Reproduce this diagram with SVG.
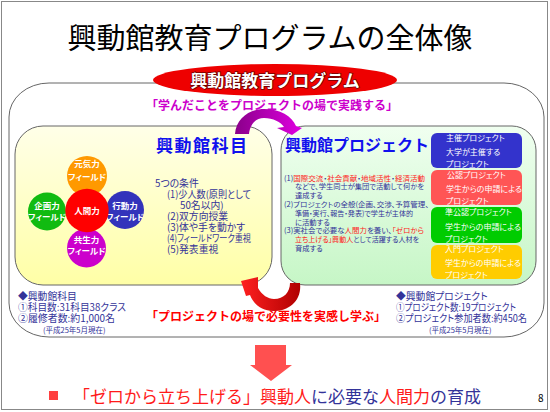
<svg xmlns="http://www.w3.org/2000/svg" width="550" height="412" viewBox="0 0 550 412">
<defs>
<style>
text{font-family:"Noto Sans CJK JP","Noto Sans CJK SC",sans-serif}
.p{font-feature-settings:"palt" 1}
.b{font-weight:700}
.navy{fill:#333399}
.red{fill:#ff1a1a}
.wt{fill:#ffffff;font-weight:700;font-size:8.5px;text-anchor:middle}
.pb{fill:#ffffff;font-size:8px}
.box{stroke:#666666;stroke-width:1}
</style>
<linearGradient id="gy" x1="0" y1="0" x2="0" y2="1"><stop offset="0" stop-color="#ffffe8"/><stop offset="1" stop-color="#ffffa6"/></linearGradient>
<linearGradient id="gg" x1="0" y1="0" x2="0" y2="1"><stop offset="0" stop-color="#f0fff0"/><stop offset="1" stop-color="#c6f6c6"/></linearGradient>
<linearGradient id="gm" x1="0" y1="0" x2="1" y2="0"><stop offset="0" stop-color="#8a008a"/><stop offset="1" stop-color="#e000e0"/></linearGradient>
<linearGradient id="gr" x1="1" y1="0" x2="0" y2="0"><stop offset="0" stop-color="#b00000"/><stop offset="1" stop-color="#ff2020"/></linearGradient>
</defs>
<rect x="0" y="0" width="550" height="412" fill="#ffffff"/>
<rect x="1.5" y="1.5" width="546" height="408" fill="none" stroke="#888888"/>
<g id="title"><text x="270" y="49" font-size="29" text-anchor="middle" fill="#000000">興動館教育プログラムの全体像</text></g>
<g id="program-frame">
<rect x="9" y="83" width="535" height="254" rx="40" ry="34" fill="none" stroke="#666666"/>
</g>
<g id="program-label">
<ellipse cx="275" cy="80" rx="122" ry="16" fill="#ee0000"/>
<text x="275" y="86.5" font-size="17" class="b" text-anchor="middle" fill="#ffffff" stroke="#700000" stroke-width="1.5" paint-order="stroke">興動館教育プログラム</text>
</g>
<text x="272" y="110" font-size="12" class="b" text-anchor="middle" fill="#cc00cc">「学んだことをプロジェクトの場で実践する」</text>
<g id="subjects">
<rect class="box" x="15" y="126" width="257" height="159" rx="28" fill="url(#gy)"/>
<text x="156" y="152" font-size="17" class="b" letter-spacing="1.5" fill="#1111ee">興動館科目</text>
<g class="navy p" font-size="9.8">
<text x="155" y="186.5">5つの条件</text>
<text x="167" y="197.5" textLength="84" lengthAdjust="spacingAndGlyphs">(1)少人数(原則として</text>
<text x="180" y="209">50名以内)</text>
<text x="167" y="220">(2)双方向授業</text>
<text x="167" y="231">(3)体や手を動かす</text>
<text x="167" y="242" textLength="84" lengthAdjust="spacingAndGlyphs">(4)フィールドワーク重視</text>
<text x="167" y="252.5">(5)発表重視</text>
</g>
</g>
<g id="field-genki"><circle cx="87" cy="176" r="20" fill="#ff9900"/><text class="wt p" x="87" y="167">元気力</text><text class="wt p" x="87" y="180">フィールド</text></g>
<g id="field-kikaku"><circle cx="47" cy="211.5" r="19" fill="#11bb11"/><text class="wt p" x="47" y="209">企画力</text><text class="wt p" x="47" y="219.5">フィールド</text></g>
<g id="field-koudou"><circle cx="125" cy="210" r="19" fill="#3333bb"/><text class="wt p" x="125" y="209">行動力</text><text class="wt p" x="125" y="219.5">フィールド</text></g>
<g id="field-kyousei"><circle cx="86.5" cy="248" r="19.5" fill="#cc00cc"/><text class="wt p" x="86.5" y="243">共生力</text><text class="wt p" x="86.5" y="253.5">フィールド</text></g>
<g id="ningenryoku"><circle cx="87" cy="210.5" r="21.7" fill="#ff0000"/><text class="wt p" x="87" y="213.5">人間力</text></g>
<g id="projects">
<rect class="box" x="281" y="126" width="255" height="159" rx="24" fill="url(#gg)"/>
<text x="285" y="151" font-size="16" class="b" fill="#1111ee">興動館プロジェクト</text>
<g class="navy p" font-size="7.3">
<text x="284" y="180.5" textLength="141" lengthAdjust="spacingAndGlyphs">(1)<tspan class="red">国際交流</tspan>・<tspan class="red">社会貢献</tspan>・<tspan class="red">地域活性</tspan>・<tspan class="red">経済活動</tspan></text>
<text x="295" y="189.3" textLength="129" lengthAdjust="spacingAndGlyphs">などで、学生同士が集団で活動して何かを</text>
<text x="295" y="198.1">達成する</text>
<text x="284" y="206.9" textLength="145" lengthAdjust="spacingAndGlyphs">(2)プロジェクトの全般(企画、交渉、予算管理、</text>
<text x="295" y="215.7" textLength="118" lengthAdjust="spacingAndGlyphs">準備・実行、報告・発表)で学生が主体的</text>
<text x="295" y="224.5">に活動する</text>
<text x="284" y="233.3" textLength="140" lengthAdjust="spacingAndGlyphs">(3)実社会で必要な<tspan class="red">人間力</tspan>を養い、<tspan class="red">「ゼロから</tspan></text>
<text x="295" y="242.1" textLength="124" lengthAdjust="spacingAndGlyphs"><tspan class="red">立ち上げる」興動人</tspan>として活躍する人材を</text>
<text x="295" y="250.9">育成する</text>
</g>
</g>
<g id="proj-shusai"><rect x="431" y="133" width="91" height="35" rx="6" fill="#3333cc"/><g class="pb p"><text x="446" y="141">主催プロジェクト</text><text x="446" y="155">大学が主催する</text><text x="446" y="166.5">プロジェクト</text></g></g>
<g id="proj-kounin"><rect x="431" y="170" width="91" height="35" rx="6" fill="#ff5555"/><g class="pb p"><text x="447" y="177.5">公認プロジェクト</text><text x="446" y="191.5">学生からの申請による</text><text x="446" y="204">プロジェクト</text></g></g>
<g id="proj-junkounin"><rect x="431" y="207" width="91" height="36" rx="6" fill="#00cc00"/><g class="pb p"><text x="445" y="215">準公認プロジェクト</text><text x="445" y="230">学生からの申請による</text><text x="445" y="241.5">プロジェクト</text></g></g>
<g id="proj-nyumon"><rect x="431" y="245" width="91" height="34" rx="6" fill="#ffcc00"/><g class="pb p"><text x="445" y="252">入門プロジェクト</text><text x="445" y="266">学生からの申請による</text><text x="445" y="278">プロジェクト</text></g></g>
<g id="subject-notes" class="navy p" font-size="9.8">
<text x="18" y="299.5">◆興動館科目</text>
<text x="18" y="311" textLength="108" lengthAdjust="spacingAndGlyphs">①科目数:31科目38クラス</text>
<text x="18" y="322" textLength="97" lengthAdjust="spacingAndGlyphs">②履修者数:約1,000名</text>
<text x="43" y="332.5" font-size="7.5">(平成25年5月現在)</text>
</g>
<g id="project-notes" class="navy p" font-size="9.8">
<text x="396" y="299.5">◆興動館プロジェクト</text>
<text x="396" y="311" textLength="120" lengthAdjust="spacingAndGlyphs">①プロジェクト数:19プロジェクト</text>
<text x="396" y="322" textLength="131" lengthAdjust="spacingAndGlyphs">②プロジェクト参加者数:約450名</text>
<text x="429" y="332.5" font-size="7.5">(平成25年5月現在)</text>
</g>
<text x="266" y="321" font-size="12" class="b" text-anchor="middle" fill="#ff0000">「プロジェクトの場で必要性を実感し学ぶ」</text>
<g id="connectors">
<path d="M235 134 C236 118 250 109 264 109 C280 109 292 116 296 126 L302 128 L292 135 L277 128 L284 127 C281 122 273 118 264 118 C256 118 250 124 249 134 Z" fill="url(#gm)"/>
<path d="M300 283 C302 300 290 311 273 311 C262 311 254 305 250 295 L246 296 L241 281 L258 277 L258 288 C262 295 268 299 274 299 C284 299 290 292 290 283 Z" fill="url(#gr)"/>
<path d="M255 345 H286 V365 H292 L271 381 L250 365 H255 Z" fill="#ff5050"/>
</g>
<g id="conclusion">
<rect x="49" y="391" width="9" height="9" fill="#ff4040"/>
<text x="73" y="403" font-size="17"><tspan fill="#ff1a1a">「ゼロから立ち上げる」興動人</tspan><tspan fill="#333399">に必要な</tspan><tspan fill="#ff1a1a">人間力</tspan><tspan fill="#333399">の育成</tspan></text>
</g>
<text x="538" y="402" font-size="10" fill="#000000">8</text>
</svg>
